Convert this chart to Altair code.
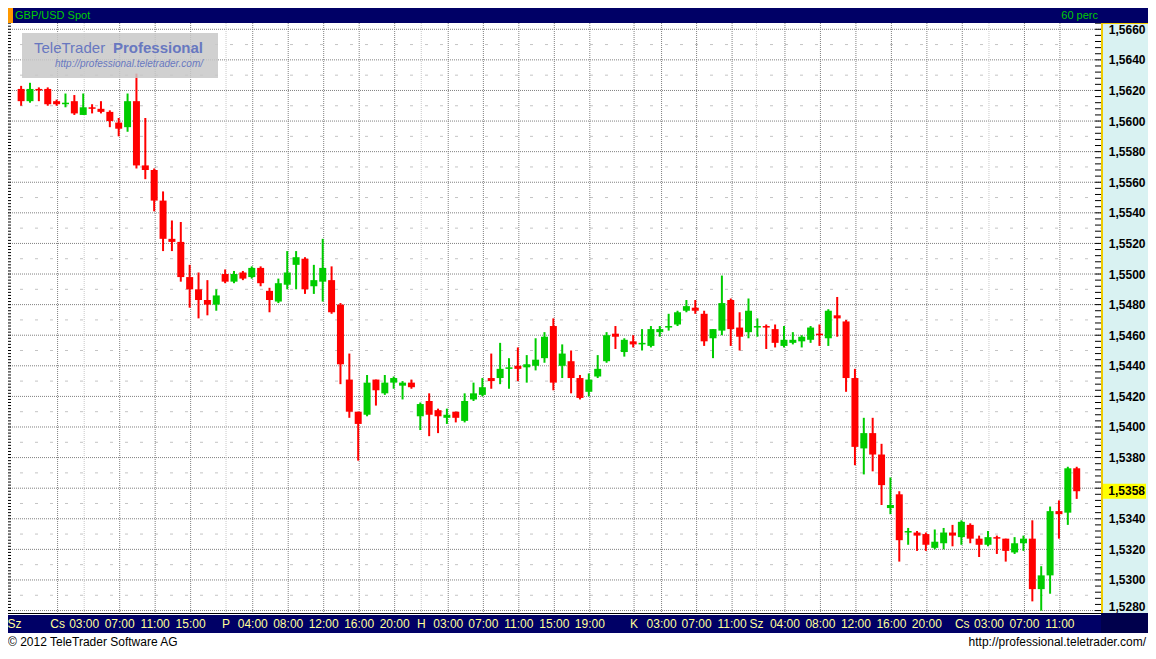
import altair as alt
import pandas as pd

# ---------------- data ----------------
opens = [1.5621, 1.5613, 1.5621, 1.5621, 1.5613, 1.5611, 1.5613, 1.5604, 1.5609, 1.5608,
         1.5606, 1.5599, 1.5596, 1.5613, 1.5571, 1.5568, 1.5548, 1.5523, 1.5521, 1.5498,
         1.5490, 1.5483, 1.5480, 1.5500, 1.5495, 1.5501, 1.5498, 1.5504, 1.5489, 1.5482,
         1.5493, 1.5506, 1.5510, 1.5492, 1.5495, 1.5496, 1.5480, 1.5431, 1.5410, 1.5408,
         1.5431, 1.5422, 1.5429, 1.5427, 1.5429, 1.5407, 1.5417, 1.5411, 1.5406, 1.5410,
         1.5404, 1.5418, 1.5421, 1.5432, 1.5432, 1.5438, 1.5440, 1.5439, 1.5440, 1.5445,
         1.5466, 1.5440, 1.5443, 1.5432, 1.5423, 1.5433, 1.5443, 1.5461, 1.5449, 1.5456,
         1.5454, 1.5453, 1.5462, 1.5465, 1.5467, 1.5476, 1.5478, 1.5474, 1.5458, 1.5463,
         1.5483, 1.5465, 1.5462, 1.5465, 1.5466, 1.5464, 1.5453, 1.5455, 1.5456, 1.5457,
         1.5461, 1.5458, 1.5473, 1.5469, 1.5432, 1.5386, 1.5396, 1.5382, 1.5347, 1.5356,
         1.5331, 1.5331, 1.5330, 1.5321, 1.5324, 1.5331, 1.5328, 1.5336, 1.5327, 1.5323,
         1.5328, 1.5327, 1.5318, 1.5324, 1.5327, 1.5294, 1.5303, 1.5345, 1.5344, 1.5373]
highs = [1.5623, 1.5625, 1.5622, 1.5622, 1.5614, 1.5618, 1.5617, 1.5618, 1.5611, 1.5613,
         1.5607, 1.5602, 1.5618, 1.5631, 1.5602, 1.5569, 1.5554, 1.5535, 1.5534, 1.5506,
         1.5501, 1.5496, 1.5490, 1.5503, 1.5502, 1.5502, 1.5505, 1.5505, 1.5491, 1.5497,
         1.5515, 1.5515, 1.5511, 1.5506, 1.5523, 1.5505, 1.5481, 1.5448, 1.5410, 1.5434,
         1.5431, 1.5434, 1.5433, 1.5430, 1.5431, 1.5416, 1.5422, 1.5412, 1.5412, 1.5410,
         1.5422, 1.5429, 1.5432, 1.5448, 1.5455, 1.5445, 1.5452, 1.5447, 1.5458, 1.5462,
         1.5471, 1.5454, 1.5450, 1.5434, 1.5435, 1.5447, 1.5462, 1.5466, 1.5458, 1.5460,
         1.5464, 1.5466, 1.5466, 1.5474, 1.5476, 1.5483, 1.5483, 1.5476, 1.5464, 1.5499,
         1.5484, 1.5475, 1.5484, 1.5471, 1.5467, 1.5467, 1.5466, 1.5462, 1.5460, 1.5466,
         1.5467, 1.5477, 1.5485, 1.5470, 1.5438, 1.5406, 1.5406, 1.5389, 1.5367, 1.5358,
         1.5334, 1.5332, 1.5331, 1.5333, 1.5334, 1.5336, 1.5339, 1.5337, 1.5329, 1.5332,
         1.5329, 1.5327, 1.5328, 1.5329, 1.5339, 1.5309, 1.5348, 1.5352, 1.5374, 1.5374]
lows = [1.5610, 1.5612, 1.5613, 1.5610, 1.5610, 1.5609, 1.5604, 1.5604, 1.5605, 1.5605,
        1.5596, 1.5590, 1.5593, 1.5569, 1.5562, 1.5541, 1.5515, 1.5515, 1.5495, 1.5478,
        1.5471, 1.5473, 1.5476, 1.5494, 1.5494, 1.5496, 1.5497, 1.5492, 1.5475, 1.5481,
        1.5490, 1.5490, 1.5487, 1.5487, 1.5482, 1.5474, 1.5428, 1.5406, 1.5378, 1.5407,
        1.5414, 1.5421, 1.5425, 1.5418, 1.5425, 1.5398, 1.5394, 1.5396, 1.5402, 1.5403,
        1.5403, 1.5417, 1.5420, 1.5425, 1.5428, 1.5425, 1.5430, 1.5429, 1.5437, 1.5442,
        1.5424, 1.5432, 1.5422, 1.5418, 1.5420, 1.5432, 1.5442, 1.5451, 1.5446, 1.5452,
        1.5450, 1.5452, 1.5459, 1.5463, 1.5466, 1.5475, 1.5474, 1.5453, 1.5445, 1.5460,
        1.5453, 1.5450, 1.5458, 1.5459, 1.5451, 1.5452, 1.5452, 1.5454, 1.5452, 1.5455,
        1.5453, 1.5453, 1.5459, 1.5423, 1.5375, 1.5369, 1.5371, 1.5349, 1.5343, 1.5312,
        1.5323, 1.5319, 1.5319, 1.5320, 1.5320, 1.5322, 1.5323, 1.5324, 1.5315, 1.5322,
        1.5317, 1.5312, 1.5317, 1.5319, 1.5286, 1.5280, 1.5291, 1.5327, 1.5336, 1.5353]
closes = [1.5613, 1.5621, 1.5620, 1.5611, 1.5611, 1.5612, 1.5605, 1.5609, 1.5608, 1.5606,
          1.5600, 1.5595, 1.5613, 1.5571, 1.5568, 1.5548, 1.5523, 1.5521, 1.5498, 1.5490,
          1.5483, 1.5480, 1.5486, 1.5495, 1.5500, 1.5497, 1.5504, 1.5494, 1.5483, 1.5494,
          1.5501, 1.5511, 1.5490, 1.5496, 1.5504, 1.5475, 1.5441, 1.5410, 1.5402, 1.5429,
          1.5424, 1.5429, 1.5432, 1.5429, 1.5426, 1.5415, 1.5408, 1.5407, 1.5408, 1.5406,
          1.5417, 1.5422, 1.5426, 1.5430, 1.5438, 1.5439, 1.5438, 1.5441, 1.5444, 1.5459,
          1.5429, 1.5448, 1.5432, 1.5419, 1.5431, 1.5438, 1.5460, 1.5459, 1.5457, 1.5454,
          1.5455, 1.5464, 1.5464, 1.5466, 1.5475, 1.5479, 1.5476, 1.5456, 1.5464, 1.5481,
          1.5464, 1.5459, 1.5476, 1.5466, 1.5465, 1.5455, 1.5457, 1.5457, 1.5459, 1.5465,
          1.5460, 1.5476, 1.5471, 1.5432, 1.5387, 1.5396, 1.5382, 1.5362, 1.5349, 1.5326,
          1.5332, 1.5329, 1.5323, 1.5325, 1.5331, 1.5329, 1.5338, 1.5327, 1.5323, 1.5328,
          1.5327, 1.5319, 1.5324, 1.5327, 1.5294, 1.5303, 1.5345, 1.5343, 1.5373, 1.5358]

# time-axis labels (position in candle units) and the style of their grid line
time_label_pos = [-0.75, 4.11, 7.11, 11.11, 15.11, 19.11, 23.1, 26.11, 30.11, 34.11,
                  38.11, 42.11, 45.11, 48.15, 52.11, 56.11, 60.11, 64.11, 69.1, 72.2,
                  76.15, 80.15, 82.9, 86.11, 90.11, 94.11, 98.11, 102.11, 106.1, 109.11,
                  113.11, 117.11]
time_labels = ["Sz", "Cs", "03:00", "07:00", "11:00", "15:00", "P", "04:00", "08:00", "12:00",
               "16:00", "20:00", "H", "03:00", "07:00", "11:00", "15:00", "19:00", "K", "03:00",
               "07:00", "11:00", "Sz", "04:00", "08:00", "12:00", "16:00", "20:00", "Cs", "03:00",
               "07:00", "11:00"]
grid_styles = ["none", "dark", "light", "dark", "dark", "dark", "light", "dark", "dark", "dark",
               "dark", "dark", "light", "dark", "dark", "dark", "dark", "dark", "dark", "dark",
               "dark", "dark", "light", "dark", "dark", "dark", "dark", "dark", "dark", "light",
               "dark", "dark"]

price_labels = [1.5280, 1.5300, 1.5320, 1.5340, 1.5360, 1.5380, 1.5400, 1.5420, 1.5440, 1.5460,
                1.5480, 1.5500, 1.5520, 1.5540, 1.5560, 1.5580, 1.5600, 1.5620, 1.5640, 1.5660]
minor_levels = [1.5290, 1.5310, 1.5330, 1.5350, 1.5370, 1.5390, 1.5410, 1.5430, 1.5450, 1.5470,
                1.5490, 1.5510, 1.5530, 1.5550, 1.5570, 1.5590, 1.5610, 1.5630, 1.5650]
left_ticks = [round(1.5280 + 0.0002 * k, 4) for k in range(193)]
right_ticks = [round(1.5280 + 0.0004 * k, 4) for k in range(97)]
last_price = 1.5358

# ---------------- styling / layout ----------------
W, H = 1093, 590
TOTAL_W = 1140
RED, GREEN = "#ff0000", "#00cc00"
NAVY = "#000066"
NAVY_DARK = "#00004c"
PANEL_BG = "#d9f2f2"
FONT = "Liberation Sans"

xs = alt.Scale(domain=[-1.48, 121.74], nice=False, zero=False)
ys = alt.Scale(domain=[1.52784, 1.56641], nice=False, zero=False)

yaxis = alt.Axis(
    orient="right", values=price_labels, title=None,
    labelExpr="replace(format(datum.value, '.4f'), '.', ',')",
    labelAlign="right", labelPadding=44, ticks=False, tickSize=0, domain=False, grid=False,
    labelFont=FONT, labelFontSize=12, labelFontWeight="bold", labelColor="black",
    labelFlush=False, labelOverlap=False, zindex=0,
    labelBaseline={"condition": {"test": "datum.value < 1.529", "value": "alphabetic"},
                   "value": "middle"},
)


def X(field):
    return alt.X(field, type="quantitative", scale=xs, axis=None, title=None)


def Y(field):
    return alt.Y(field, type="quantitative", scale=ys, axis=yaxis, title=None)


candles = pd.DataFrame({"i": list(range(len(opens))), "open": opens, "high": highs,
                        "low": lows, "close": closes})
times = pd.DataFrame({"pos": time_label_pos, "lab": time_labels, "style": grid_styles})
major = pd.DataFrame({"p": price_labels})
minor = pd.DataFrame({"p": minor_levels})
lt = pd.DataFrame({"p": left_ticks})
rt = pd.DataFrame({"p": right_ticks})
last = pd.DataFrame({"p": [last_price], "t": ["1,5358"]})
one = pd.DataFrame({"k": [0]})


def rect(x1, x2, y1, y2, color, **kw):
    return alt.Chart(one).mark_rect(color=color, **kw).encode(
        x=alt.value(x1), x2=alt.value(x2), y=alt.value(y1), y2=alt.value(y2))


def hline(x1, x2, y, color, width=1):
    return alt.Chart(one).mark_rule(color=color, strokeWidth=width).encode(
        x=alt.value(x1), x2=alt.value(x2), y=alt.value(y))


def txt(text, x, y, **kw):
    return alt.Chart(one).mark_text(text=text, font=FONT, baseline="middle", **kw).encode(
        x=alt.value(x), y=alt.value(y))


color_rule = alt.condition("datum.close >= datum.open", alt.value(GREEN), alt.value(RED))

layers = [
    # grid
    alt.Chart(major).mark_rule(color="#808080", strokeDash=[1, 1], strokeWidth=1).encode(
        y=Y("p"), x=alt.value(0), x2=alt.value(W)),
    alt.Chart(minor).mark_rule(color="#c4c4c4", strokeDash=[3, 12], strokeDashOffset=-12,
                               strokeWidth=1).encode(
        y=Y("p"), x=alt.value(0), x2=alt.value(W)),
    alt.Chart(times).transform_filter("datum.style != 'none'").mark_rule(
        strokeDash=[1, 1], strokeWidth=1).encode(
        x=X("pos"), y=alt.value(0), y2=alt.value(H),
        color=alt.condition("datum.style == 'light'", alt.value("#c8c8c8"), alt.value("#808080"))),
    # edge ticks
    alt.Chart(lt).mark_rule(color="black", strokeWidth=1).encode(
        y=Y("p"), x=alt.value(0), x2=alt.value(3)),
    alt.Chart(rt).mark_rule(color="black", strokeWidth=1).encode(
        y=Y("p"), x=alt.value(W - 6), x2=alt.value(W)),
    # candles
    alt.Chart(candles).mark_rule(strokeWidth=2).encode(
        x=X("i"), y=Y("low"), y2=alt.Y2("high"), color=color_rule),
    alt.Chart(candles).mark_rule(strokeWidth=7, strokeCap="butt").encode(
        x=X("i"), y=Y("open"), y2=alt.Y2("close"), color=color_rule),
    # watermark
    rect(14, 210, 10, 55, "#c8c8c8", opacity=0.85),
    txt("TeleTrader ", 26, 25, align="left", fontSize=15, color="#6878c0"),
    txt("Professional", 195, 25, align="right", fontSize=15, fontWeight="bold", color="#6878c0"),
    txt("http://professional.teletrader.com/", 195, 41, align="right", fontSize=10,
        fontStyle="italic", color="#6878c0"),
    # header
    rect(0, TOTAL_W, -15, 0, NAVY),
    rect(0, 5, -15, 0, "#ff9900"),
    txt("GBP/USD Spot", 7, -7.5, align="left", fontSize=11, color="#00cc00"),
    txt("60 perc", 1090, -7.5, align="right", fontSize=11, color="#00cc00"),
    # panel border
    alt.Chart(one).mark_rule(color="#f0cc00", strokeWidth=2).encode(
        x=alt.value(W + 1), y=alt.value(0), y2=alt.value(H)),
    hline(W, TOTAL_W, 0.5, "#f0cc00"),
    # bottom band and footer
    rect(0, TOTAL_W, H, H + 38, "white"),
    hline(0, W, H + 0.5, "black"),
    rect(0, W, H + 2, H + 20, NAVY),
    rect(W, TOTAL_W, H, H + 20, NAVY_DARK),
    txt("\u00a9 2012 TeleTrader Software AG", 0, H + 29, align="left", fontSize=12, color="black"),
    txt("http://professional.teletrader.com/", TOTAL_W - 2, H + 29, align="right", fontSize=12,
        color="black"),
    alt.Chart(times).mark_text(font=FONT, fontSize=12, color="#ffff99", baseline="middle").encode(
        x=X("pos"), y=alt.value(H + 11), text="lab:N"),
    # last price tag
    alt.Chart(last).mark_tick(orient="horizontal", size=43, thickness=15, color="#ffff00",
                              opacity=1).encode(y=Y("p"), x=alt.value(W + 23.5)),
    alt.Chart(last).mark_text(font=FONT, fontSize=12, fontWeight="bold", color="black",
                              align="right", baseline="middle").encode(
        y=Y("p"), x=alt.value(W + 44), text="t:N"),
]

chart = alt.layer(*layers).properties(
    width=W, height=H, autosize="none",
    padding={"left": 0, "top": 15, "right": TOTAL_W - W, "bottom": 38},
    background=PANEL_BG,
).configure_view(fill="white", stroke=None)

chart.save("out.html", embed_options={"renderer": "svg", "actions": False})
